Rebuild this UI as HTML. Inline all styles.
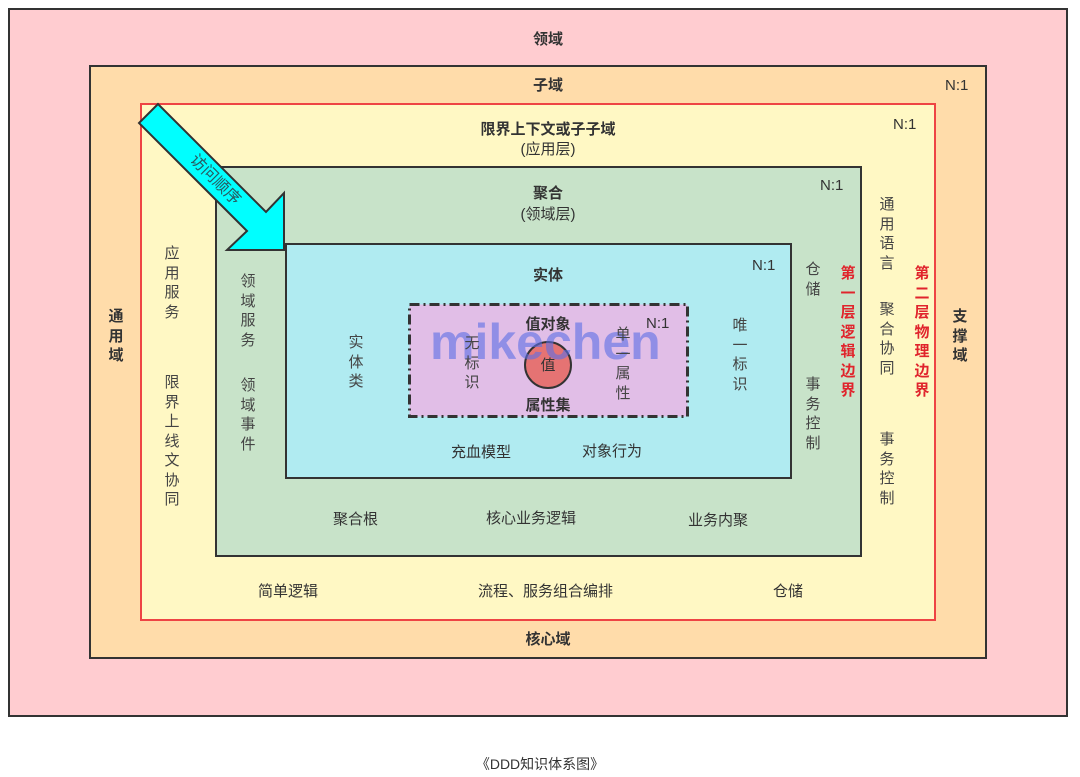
<!DOCTYPE html>
<html><head><meta charset="utf-8"><style>
body{margin:0;width:1080px;height:777px;background:#fff;position:relative;overflow:hidden;font-family:"Liberation Sans","Noto Sans CJK SC",sans-serif;color:#333}
.b{position:absolute;box-sizing:border-box}
.t{position:absolute;font-size:15px;line-height:19.5px;text-align:center;white-space:nowrap}
.v{position:absolute;font-size:15px;line-height:19.5px;width:16px;text-align:center;color:#444}
.bd{font-weight:bold}
.red{color:#e0242c;font-weight:bold}
</style></head><body>
<div class="b" style="left:8px;top:8px;width:1060px;height:709px;background:#ffccd0;border:2px solid #333"></div>
<div class="b" style="left:89px;top:65px;width:898px;height:594px;background:#ffdcaa;border:2px solid #333"></div>
<div class="b" style="left:140px;top:103px;width:796px;height:518px;background:#fff8c4;border:2px solid #ee4444"></div>
<div class="b" style="left:215px;top:166px;width:647px;height:391px;background:#c8e3c9;border:2px solid #333"></div>
<div class="b" style="left:285px;top:243px;width:507px;height:236px;background:#b0ebf1;border:2px solid #333"></div>
<svg class="b" style="left:0;top:0" width="1080" height="777">
<rect x="409.5" y="304.5" width="278" height="112" fill="#e1bee7" stroke="#333" stroke-width="3" stroke-dasharray="10 4 2 4"/>
<circle cx="548" cy="365" r="23" fill="#e57373" stroke="#333" stroke-width="2"/>
<polygon points="158,104 139,123 247,231 227,250 284,250 284,193 266,212" fill="#00ffff" stroke="#333" stroke-width="2"/>
<text x="0" y="6" font-size="16" fill="#2a5a60" text-anchor="middle" transform="translate(216,179) rotate(45)" font-family="Liberation Sans, Noto Sans CJK SC, sans-serif">访问顺序</text>
</svg>
<div class="t bd" style="left:0;width:1096px;top:30px">领域</div>
<div class="t bd" style="left:0;width:1096px;top:76px">子域</div>
<div class="t" style="left:945px;top:76px">N:1</div>
<div class="t bd" style="left:0;width:1096px;top:120px">限界上下文或子子域</div>
<div class="t" style="left:0;width:1096px;top:140px">(应用层)</div>
<div class="t" style="left:893px;top:115px">N:1</div>
<div class="t bd" style="left:0;width:1096px;top:184px">聚合</div>
<div class="t" style="left:0;width:1096px;top:205px">(领域层)</div>
<div class="t" style="left:820px;top:176px">N:1</div>
<div class="t bd" style="left:0;width:1096px;top:266px">实体</div>
<div class="t" style="left:752px;top:256px">N:1</div>
<div class="t bd" style="left:0;width:1096px;top:315px">值对象</div>
<div class="t" style="left:646px;top:314px">N:1</div>
<div class="t" style="left:0;width:1096px;top:356px">值</div>
<div class="t bd" style="left:0;width:1096px;top:396px">属性集</div>
<div style="position:absolute;left:430px;top:302px;font-size:50px;font-weight:bold;color:rgba(90,110,230,0.6);font-family:'Liberation Sans',sans-serif;line-height:80px">mikechen</div>
<div class="t" style="left:451px;top:443px">充血模型</div>
<div class="t" style="left:582px;top:442px">对象行为</div>
<div class="t" style="left:333px;top:510px">聚合根</div>
<div class="t" style="left:486px;top:509px">核心业务逻辑</div>
<div class="t" style="left:688px;top:511px">业务内聚</div>
<div class="t" style="left:258px;top:582px">简单逻辑</div>
<div class="t" style="left:478px;top:582px">流程、服务组合编排</div>
<div class="t" style="left:773px;top:582px">仓储</div>
<div class="t bd" style="left:0;width:1096px;top:630px">核心域</div>
<div class="t" style="left:0;width:1080px;top:755px;font-size:14px">《DDD知识体系图》</div>
<div class="v bd" style="left:108px;top:307px;color:#333">通<br>用<br>域</div>
<div class="v" style="left:164px;top:244px">应<br>用<br>服<br>务</div>
<div class="v" style="left:164px;top:373px">限<br>界<br>上<br>线<br>文<br>协<br>同</div>
<div class="v" style="left:240px;top:272px">领<br>域<br>服<br>务</div>
<div class="v" style="left:240px;top:376px">领<br>域<br>事<br>件</div>
<div class="v" style="left:348px;top:333px">实<br>体<br>类</div>
<div class="v" style="left:464px;top:334px">无<br>标<br>识</div>
<div class="v" style="left:615px;top:325px">单<br>一<br>属<br>性</div>
<div class="v" style="left:732px;top:316px">唯<br>一<br>标<br>识</div>
<div class="v" style="left:805px;top:260px">仓<br>储</div>
<div class="v" style="left:805px;top:375px">事<br>务<br>控<br>制</div>
<div class="v red" style="left:840px;top:264px">第<br>一<br>层<br>逻<br>辑<br>边<br>界</div>
<div class="v" style="left:879px;top:195px">通<br>用<br>语<br>言</div>
<div class="v" style="left:879px;top:300px">聚<br>合<br>协<br>同</div>
<div class="v" style="left:879px;top:430px">事<br>务<br>控<br>制</div>
<div class="v red" style="left:914px;top:264px">第<br>二<br>层<br>物<br>理<br>边<br>界</div>
<div class="v bd" style="left:952px;top:307px;color:#333">支<br>撑<br>域</div>
</body></html>
